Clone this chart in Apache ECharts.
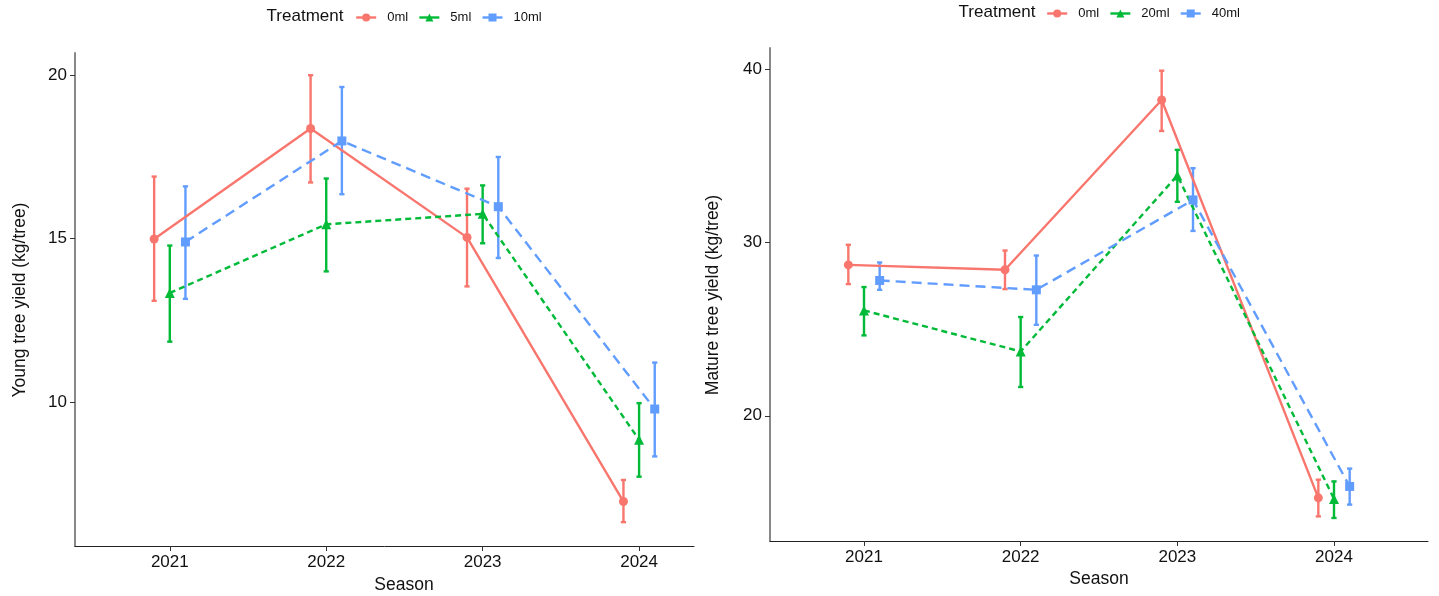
<!DOCTYPE html>
<html>
<head>
<meta charset="utf-8">
<title>Tree yield by season and treatment</title>
<script src="https://cdn.jsdelivr.net/npm/echarts@6/dist/echarts.min.js"></script>
<style>
  html, body { margin: 0; padding: 0; background: #fff; }
  #chart { width: 1439px; height: 596px; }
</style>
</head>
<body>
<div id="chart"></div>
<script>
// Seasons on the x axis
const seasons = ['2021', '2022', '2023', '2024'];

// Young trees: mean yield (kg/tree) with lower / upper error limits
const young0 = [14.99, 18.37, 15.04, 6.96];
const young0Lo = [13.10, 16.72, 13.54, 6.33];
const young0Hi = [16.90, 20.00, 16.53, 7.62];
const young5 = [13.34, 15.44, 15.76, 8.85];
const young5Lo = [11.85, 14.00, 14.86, 7.72];
const young5Hi = [14.79, 16.84, 16.63, 9.97];
const young10 = [14.90, 17.99, 15.98, 9.79];
const young10Lo = [13.16, 16.36, 14.41, 8.34];
const young10Hi = [16.60, 19.64, 17.50, 11.21];

// Mature trees: mean yield (kg/tree) with lower / upper error limits
const mature0 = [28.71, 28.43, 38.23, 15.26];
const mature0Lo = [27.60, 27.31, 36.44, 14.19];
const mature0Hi = [29.87, 29.54, 39.92, 16.31];
const mature20 = [26.08, 23.71, 33.87, 15.20];
const mature20Lo = [24.64, 21.66, 32.35, 14.10];
const mature20Hi = [27.43, 25.70, 35.35, 16.21];
const mature40 = [27.81, 27.27, 32.46, 15.92];
const mature40Lo = [27.27, 25.25, 30.67, 14.87];
const mature40Hi = [28.85, 29.25, 34.29, 16.95];

// Tick values
const youngTicks = [10, 15, 20];
const matureTicks = [20, 30, 40];

const RED = '#F8766D', GREEN = '#00BA38', BLUE = '#619CFF';
const FONT = "'Liberation Sans', Arial, sans-serif";
const seasonPos = seasons.map((s, i) => i + 1);

// points dodged sideways around each season
function pts(vals, shift) {
  return vals.map((v, i) => [seasonPos[i] + shift, v]);
}
function bars(lo, hi, shift) {
  return lo.map((l, i) => [seasonPos[i] + shift, l, hi[i]]);
}

function errorRender(color) {
  return function (params, api) {
    const x = api.value(0);
    const top = api.coord([x, api.value(2)]);
    const bot = api.coord([x, api.value(1)]);
    const half = 2.6;
    const style = { stroke: color, lineWidth: 2.4 };
    return {
      type: 'group',
      children: [
        { type: 'line', shape: { x1: top[0], y1: top[1], x2: bot[0], y2: bot[1] }, style },
        { type: 'line', shape: { x1: top[0] - half, y1: top[1], x2: top[0] + half, y2: top[1] }, style },
        { type: 'line', shape: { x1: bot[0] - half, y1: bot[1], x2: bot[0] + half, y2: bot[1] }, style }
      ]
    };
  };
}

function lineSeries(name, data, color, symbol, dash, idx) {
  return {
    type: 'line', name, data, xAxisIndex: idx, yAxisIndex: idx,
    symbol, symbolSize: symbol === 'triangle' ? 10 : 9,
    showAllSymbol: true,
    itemStyle: { color },
    lineStyle: { color, width: 2.4, type: dash },
    z: 3
  };
}
function errSeries(name, data, color, idx) {
  return {
    type: 'custom', name, data, xAxisIndex: idx, yAxisIndex: idx,
    encode: { x: 0, y: [1, 2] },
    renderItem: errorRender(color),
    z: 2
  };
}

function xAxisCfg(idx, min, max) {
  return {
    type: 'value', gridIndex: idx, min, max,
    splitLine: { show: false },
    axisLine: { show: true, lineStyle: { color: '#222', width: 1 } },
    axisTick: { show: true, customValues: seasonPos, length: 5, lineStyle: { color: '#333' } },
    axisLabel: {
      customValues: seasonPos, margin: 8, color: '#111', fontSize: 17, fontFamily: FONT,
      formatter: v => seasons[Math.round(v) - 1]
    }
  };
}
function yAxisCfg(idx, min, max, ticks) {
  return {
    type: 'value', gridIndex: idx, min, max,
    splitLine: { show: false },
    axisLine: { show: true, lineStyle: { color: '#888', width: 2 } },
    axisTick: { show: true, customValues: ticks, length: 5, lineStyle: { color: '#333' } },
    axisLabel: { customValues: ticks, margin: 8, color: '#111', fontSize: 17, fontFamily: FONT }
  };
}

function legendCfg(left, top, names) {
  return {
    left, top, data: names, padding: 0,
    itemWidth: 20, itemHeight: 10, itemGap: 10,
    lineStyle: { type: 'solid', width: 2.4 },
    textStyle: { fontSize: 13, color: '#111', fontFamily: FONT, padding: [0, 0, 0, 6] }
  };
}

function textEl(text, x, y, rotate, size) {
  return {
    type: 'text', x, y, rotation: rotate ? Math.PI / 2 : 0,
    style: {
      text, fill: '#111', font: `${size}px ${FONT}`,
      align: 'center', verticalAlign: 'middle'
    }
  };
}

const D = 0.1;
const chart = echarts.init(document.getElementById('chart'), null, { renderer: 'canvas' });
chart.setOption({
  animation: false,
  backgroundColor: '#fff',
  grid: [
    { left: 75, top: 53, width: 619, height: 493 },
    { left: 770, top: 48, width: 658, height: 493 }
  ],
  xAxis: [xAxisCfg(0, 0.394, 4.351), xAxisCfg(1, 0.4, 4.6)],
  yAxis: [yAxisCfg(0, 5.6, 20.68, youngTicks), yAxisCfg(1, 12.77, 41.23, matureTicks)],
  legend: [
    legendCfg(355, 11, ['0ml', '5ml', '10ml']),
    legendCfg(1046, 7, ['0ml', '20ml', '40ml'])
  ],
  graphic: [
    textEl('Treatment', 305, 16, false, 17),
    textEl('Treatment', 997, 12, false, 17),
    textEl('Season', 404, 585, false, 17.5),
    textEl('Season', 1099, 579, false, 17.5),
    textEl('Young tree yield (kg/tree)', 20, 300, true, 17.5),
    textEl('Mature tree yield (kg/tree)', 713, 295, true, 17.5)
  ],
  series: [
    errSeries('0ml range', bars(young0Lo, young0Hi, -D), RED, 0),
    errSeries('5ml range', bars(young5Lo, young5Hi, 0), GREEN, 0),
    errSeries('10ml range', bars(young10Lo, young10Hi, D), BLUE, 0),
    lineSeries('0ml', pts(young0, -D), RED, 'circle', 'solid', 0),
    lineSeries('5ml', pts(young5, 0), GREEN, 'triangle', [6, 4], 0),
    lineSeries('10ml', pts(young10, D), BLUE, 'rect', [10, 6], 0),

    errSeries('0ml range ', bars(mature0Lo, mature0Hi, -D), RED, 1),
    errSeries('20ml range', bars(mature20Lo, mature20Hi, 0), GREEN, 1),
    errSeries('40ml range', bars(mature40Lo, mature40Hi, D), BLUE, 1),
    lineSeries('0ml', pts(mature0, -D), RED, 'circle', 'solid', 1),
    lineSeries('20ml', pts(mature20, 0), GREEN, 'triangle', [6, 4], 1),
    lineSeries('40ml', pts(mature40, D), BLUE, 'rect', [10, 6], 1)
  ]
});
</script>
</body>
</html>
